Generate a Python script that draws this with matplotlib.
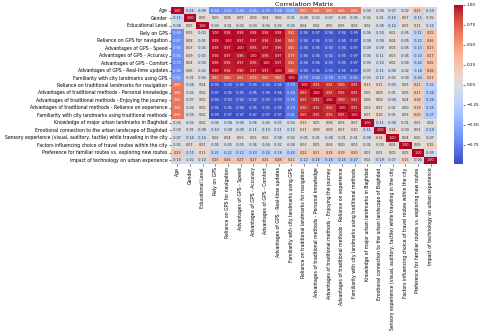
import numpy as np
import pandas as pd
import matplotlib
matplotlib.use("Agg")
import matplotlib.pyplot as plt
import seaborn as sns

labels = [
    "Age",
    "Gender",
    "Educational Level",
    "Rely on GPS",
    "Reliance on GPS for navigation",
    "Advantages of GPS - Speed",
    "Advantages of GPS - Accuracy",
    "Advantages of GPS - Comfort",
    "Advantages of GPS - Real-time updates",
    "Familiarity with city landmarks using GPS",
    "Reliance on traditional landmarks for navigation",
    "Advantages of traditional methods - Personal knowledge",
    "Advantages of traditional methods - Enjoying the journey",
    "Advantages of traditional methods - Reliance on experience",
    "Familiarity with city landmarks using traditional methods",
    "Knowledge of major urban landmarks in Baghdad",
    "Emotional connection to the urban landscape of Baghdad",
    "Sensory experience (visual, auditory, tactile) while traveling in the city",
    "Factors influencing choice of travel routes within the city",
    "Preference for familiar routes vs. exploring new routes",
    "Impact of technology on urban experience",
]

corr_rows = [
    [1.00, -0.15, -0.08, -0.68, -0.67, -0.66, -0.65, -0.70, -0.68, -0.61, 0.65, 0.66, 0.65, 0.66, 0.66, -0.04, -0.04, -0.07, -0.02, 0.23, -0.10],
    [-0.15, 1.00, 0.05, 0.05, 0.08, 0.07, 0.09, 0.04, 0.06, -0.01, -0.08, -0.02, -0.07, -0.00, -0.05, -0.02, -0.01, -0.14, 0.07, -0.15, -0.02],
    [-0.08, 0.05, 1.00, -0.03, -0.01, -0.04, -0.03, -0.04, -0.02, -0.04, 0.04, 0.02, 0.05, 0.05, 0.02, 0.02, -0.08, -0.14, 0.07, 0.11, -0.10],
    [-0.68, 0.05, -0.03, 1.00, 0.98, 0.98, 0.98, 0.98, 0.98, 0.82, -0.96, -0.97, -0.94, -0.96, -0.99, -0.06, -0.10, 0.02, -0.05, -0.21, 0.25],
    [-0.67, 0.08, -0.01, 0.98, 1.00, 0.97, 0.97, 0.96, 0.96, 0.80, -0.94, -0.96, -0.93, -0.95, -0.97, -0.08, -0.08, 0.04, -0.05, -0.22, 0.26],
    [-0.66, 0.07, -0.04, 0.98, 0.97, 1.00, 0.96, 0.97, 0.96, 0.82, -0.94, -0.95, -0.92, -0.94, -0.97, -0.09, -0.09, 0.03, -0.05, -0.23, 0.27],
    [-0.65, 0.09, -0.03, 0.98, 0.97, 0.96, 1.00, 0.96, 0.97, 0.79, -0.94, -0.95, -0.92, -0.95, -0.97, -0.06, -0.11, 0.03, -0.06, -0.23, 0.27],
    [-0.70, 0.04, -0.04, 0.98, 0.96, 0.97, 0.96, 1.00, 0.97, 0.82, -0.94, -0.96, -0.93, -0.95, -0.97, -0.04, -0.10, 0.02, -0.04, -0.24, 0.25],
    [-0.68, 0.06, -0.02, 0.98, 0.96, 0.96, 0.97, 0.97, 1.00, 0.80, -0.94, -0.96, -0.93, -0.95, -0.97, -0.07, -0.11, -0.08, -0.02, -0.18, 0.28],
    [-0.61, -0.01, -0.04, 0.82, 0.80, 0.82, 0.79, 0.82, 0.80, 1.00, -0.79, -0.80, -0.78, -0.79, -0.81, -0.03, -0.12, -0.02, -0.04, -0.24, 0.21],
    [0.65, -0.08, 0.04, -0.96, -0.94, -0.94, -0.94, -0.94, -0.94, -0.79, 1.00, 0.93, 0.92, 0.90, 0.95, 0.13, 0.11, -0.05, 0.03, 0.22, -0.22],
    [0.66, -0.02, 0.02, -0.97, -0.96, -0.95, -0.95, -0.96, -0.96, -0.80, 0.93, 1.00, 0.92, 0.95, 0.95, 0.05, 0.09, -0.01, 0.05, 0.21, -0.26],
    [0.65, -0.07, 0.05, -0.94, -0.93, -0.92, -0.92, -0.93, -0.93, -0.78, 0.92, 0.92, 1.00, 0.90, 0.93, 0.08, 0.09, -0.08, 0.04, 0.18, -0.26],
    [0.66, -0.00, 0.05, -0.96, -0.95, -0.94, -0.95, -0.95, -0.95, -0.79, 0.90, 0.95, 0.90, 1.00, 0.95, 0.03, 0.07, -0.01, 0.00, 0.19, -0.25],
    [0.66, -0.05, 0.02, -0.99, -0.97, -0.97, -0.97, -0.97, -0.97, -0.81, 0.95, 0.95, 0.93, 0.95, 1.00, 0.07, 0.10, -0.01, 0.03, 0.20, -0.27],
    [-0.04, -0.02, 0.02, -0.06, -0.08, -0.09, -0.06, -0.04, -0.07, -0.03, 0.13, 0.05, 0.08, 0.03, 0.07, 1.00, -0.11, -0.08, -0.01, 0.01, 0.02],
    [-0.04, -0.01, -0.08, -0.10, -0.08, -0.09, -0.11, -0.10, -0.11, -0.12, 0.11, 0.09, 0.09, 0.07, 0.10, -0.11, 1.00, 0.14, -0.00, 0.01, -0.19],
    [-0.07, -0.14, -0.14, 0.02, 0.04, 0.03, 0.03, 0.02, -0.08, -0.02, -0.05, -0.01, -0.08, -0.01, -0.01, -0.08, 0.14, 1.00, 0.04, 0.05, -0.07],
    [-0.02, 0.07, 0.07, -0.05, -0.05, -0.05, -0.06, -0.04, -0.02, -0.04, 0.03, 0.05, 0.04, 0.00, 0.03, -0.01, -0.00, 0.04, 1.00, 0.05, 0.15],
    [0.23, -0.15, 0.11, -0.21, -0.22, -0.23, -0.23, -0.24, -0.18, -0.24, 0.22, 0.21, 0.18, 0.19, 0.20, 0.01, 0.01, 0.05, 0.05, 1.00, -0.05],
    [-0.10, -0.02, -0.10, 0.25, 0.26, 0.27, 0.27, 0.25, 0.28, 0.21, -0.22, -0.26, -0.26, -0.25, -0.27, 0.02, -0.19, -0.07, 0.15, -0.05, 1.00],
]

corr = pd.DataFrame(np.array(corr_rows), index=labels, columns=labels)

W, H = 480, 336
fig = plt.figure(figsize=(W / 100, H / 100), dpi=100)
ax = fig.add_axes([171 / W, 1 - 164 / H, (437 - 171) / W, (164 - 7) / H])
cax = fig.add_axes([454 / W, 1 - 164 / H, 9 / W, (164 - 5) / H])

sns.heatmap(corr, ax=ax, cbar_ax=cax, cmap="coolwarm", annot=True, fmt=".2f",
            annot_kws={"size": 2.4}, xticklabels=True, yticklabels=True)

ax.tick_params(axis="both", labelsize=3.3, length=1.5, width=0.4, pad=1)
ax.set_xticklabels(ax.get_xticklabels(), rotation=90)
ax.set_yticklabels(ax.get_yticklabels(), rotation=0)
ax.set_title("Correlation Matrix", fontsize=4.6, pad=0.8)

cax.tick_params(labelsize=3.0, length=1.5, width=0.4, pad=1)
for s in cax.spines.values():
    s.set_visible(False)

fig.savefig("out.png", dpi=100)
